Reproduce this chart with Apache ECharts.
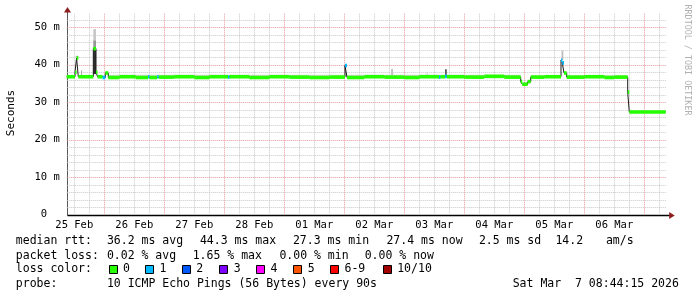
<!DOCTYPE html>
<html><head><meta charset="utf-8">
<script src="https://cdn.jsdelivr.net/npm/echarts@6/dist/echarts.min.js"></script>
<style>html,body{margin:0;padding:0;background:#fff}#c{width:697px;height:297px}</style>
</head><body><div id="c"></div>
<script>
// ---- time axis in hours since 25 Feb 00:00 ----
const xMin = 8.96, xMax = 248.96, yMax = 53.8;

// median samples: start hour, median (ms), lost pings (of 10)
const segStart  = [8.96, 12.28, 12.9, 13.6, 19.6, 20.68, 21.3, 23.36, 24.4, 25.6, 30.0, 36.5, 41.48, 42.1, 45.16, 45.76, 52.0, 60.0, 66.0, 73.48, 74.1, 82.0, 90.0, 98.0, 106.0, 114.0, 120.28, 121.08, 128.0, 136.0, 144.0, 150.0, 157.88, 158.5, 160.28, 161.0, 168.0, 176.0, 184.0, 190.56, 191.2, 193.36, 194.56, 200.0, 206.68, 207.2, 207.88, 208.96, 216.0, 224.0, 228.0, 233.36, 234.0];
const segMedian = [36.8, 38.0, 41.8, 36.8, 44.3, 38.0, 36.8, 36.6, 37.8, 36.6, 36.8, 36.6, 36.8, 36.6, 36.8, 36.7, 36.8, 36.6, 36.8, 36.7, 36.8, 36.6, 36.8, 36.7, 36.6, 36.7, 39.8, 36.6, 36.8, 36.7, 36.6, 36.8, 36.7, 36.8, 36.9, 36.8, 36.7, 36.9, 36.7, 35.5, 34.8, 35.5, 36.7, 36.8, 41.2, 40.5, 37.8, 36.7, 36.8, 36.6, 36.7, 32.7, 27.4];
const segLoss   = [0, 0, 0, 0, 0, 0, 0, 1, 0, 0, 0, 0, 1, 0, 1, 0, 0, 0, 0, 1, 0, 0, 0, 0, 0, 0, 1, 0, 0, 0, 0, 0, 1, 0, 1, 0, 0, 0, 0, 0, 0, 0, 0, 0, 1, 1, 0, 0, 0, 0, 0, 0, 0];
const dataEnd = 248.56;

// smoke (spread of the 10 pings)
const smokeFrom  = [12.6, 14.7, 19.6, 19.6, 19.6, 25.6, 121.08, 138.7, 152.9, 160.28, 194.56, 206.9, 208.96];
const smokeTo    = [13.6, 15.1, 20.68, 20.68, 20.68, 120.28, 190.56, 139.5, 153.3, 161.0, 206.68, 207.6, 233.36];
const smokeLow   = [41.8, 36.9, 46.5, 44.3, 37.5, 36.7, 36.7, 36.9, 36.9, 36.9, 36.7, 41.2, 36.7];
const smokeHigh  = [42.4, 38.5, 49.5, 46.5, 44.3, 37.3, 37.3, 38.9, 37.9, 38.8, 37.2, 43.8, 37.2];
const smokeShade = ['#b8b8b8', '#a8a8a8', '#c8c8c8', '#969696', '#303030', '#d8d8d8', '#d4d4d4', '#c4c4c4', '#c8c8c8', '#5a5a5a', '#d8d8d8', '#bcbcbc', '#d8d8d8'];

// axes
const dayLabels   = ['25 Feb', '26 Feb', '27 Feb', '28 Feb', '01 Mar', '02 Mar', '03 Mar', '04 Mar', '05 Mar', '06 Mar'];
const dayNoon     = [12, 36, 60, 84, 108, 132, 156, 180, 204, 228];
const dayMidnight = [24, 48, 72, 96, 120, 144, 168, 192, 216, 240];
const yTickLabels = ['0  ', '10 m', '20 m', '30 m', '40 m', '50 m'];
const yMajor = [10, 20, 30, 40, 50];
const yMinor = [2, 4, 6, 8, 12, 14, 16, 18, 22, 24, 26, 28, 32, 34, 36, 38, 42, 44, 46, 48, 52];

// legend
const lossLabels = ['0', '1', '2', '3', '4', '5', '6-9', '10/10'];
const lossColors = ['#26ff00', '#00b8ff', '#0059ff', '#7e00ff', '#ff00ff', '#ff5500', '#ff0000', '#a10000'];
const rttStats  = ['36.2 ms avg', '44.3 ms max', '27.3 ms min', '27.4 ms now', '2.5 ms sd', '14.2', 'am/s'];
const lossStats = ['0.02 % avg', '1.65 % max', '0.00 % min', '0.00 % now'];
const probeText = '10 ICMP Echo Pings (56 Bytes) every 90s';
const dateText  = 'Sat Mar  7 08:44:15 2026';

// minor vertical grid every 6 hours (not at midnight)
const xMinor = [];
[0].concat(dayMidnight).forEach(m => [6, 12, 18].forEach(o => { const v = m + o; if (v > xMin && v < xMax) xMinor.push(v); }));

const segEnd = segStart.map((s, i) => i < segStart.length - 1 ? segStart[i + 1] : dataEnd);
const medianLine = [];
segStart.forEach((s, i) => { medianLine.push([s, segMedian[i]]); medianLine.push([segEnd[i], segMedian[i]]); });

const MONO = '"DejaVu Sans Mono", monospace';
const chart = echarts.init(document.getElementById('c'), null, {renderer: 'canvas'});

function gridSeries(vals, vertical, color) {
  return {
    type: 'custom', z: 1, silent: true, animation: false,
    data: vals.map(v => [v]),
    renderItem(params, api) {
      const v = api.value(0);
      let a, b;
      if (vertical) { a = api.coord([v, 0]); b = api.coord([v, yMax]); const x = Math.round(a[0]) + 0.5; a[0] = b[0] = x; }
      else { a = api.coord([xMin, v]); b = api.coord([xMax, v]); const y = Math.round(a[1]) + 0.5; a[1] = b[1] = y; }
      return {type: 'line', shape: {x1: a[0], y1: a[1], x2: b[0], y2: b[1]}, style: {stroke: color, lineWidth: 1, lineDash: [1, 1]}};
    }
  };
}

chart.setOption({
  backgroundColor: '#ffffff',
  animation: false,
  grid: {left: 66.7, right: 30.3, top: 13, bottom: 82.3, containLabel: false},
  xAxis: {type: 'value', min: xMin, max: xMax, axisLine: {show: false}, axisTick: {show: false}, axisLabel: {show: false}, splitLine: {show: false}},
  yAxis: {
    type: 'value', min: 0, max: yMax, interval: 10,
    axisLine: {show: false}, axisTick: {show: false}, splitLine: {show: false},
    axisLabel: {
      margin: 7, color: '#000', fontFamily: '"DejaVu Sans Mono"', fontSize: 10.5,
      formatter: v => { const i = yMajor.indexOf(v); return v === 0 ? yTickLabels[0] : (i >= 0 ? yTickLabels[i + 1] : ''); }
    }
  },
  series: [
    gridSeries(xMinor, true, '#c8c8c8'),
    gridSeries(yMinor, false, '#c8c8c8'),
    gridSeries(dayMidnight, true, '#e89a9a'),
    gridSeries(yMajor, false, '#e89a9a'),
    {
      type: 'custom', z: 2, silent: true,
      data: smokeFrom.map((f, i) => [f, smokeTo[i], smokeLow[i], smokeHigh[i]]),
      encode: {x: [0, 1], y: [2, 3]},
      renderItem(params, api) {
        const a = api.coord([api.value(0), api.value(3)]);
        const b = api.coord([api.value(1), api.value(2)]);
        return {type: 'rect', shape: {x: a[0], y: a[1], width: Math.max(b[0] - a[0], 1), height: b[1] - a[1]}, style: {fill: smokeShade[params.dataIndex]}};
      }
    },
    {
      type: 'line', z: 3, silent: true, data: medianLine, symbol: 'none',
      lineStyle: {color: '#1a1a1a', width: 1}
    },
    {
      type: 'custom', z: 4, silent: true,
      data: segStart.map((s, i) => [s, segEnd[i], segMedian[i], segLoss[i]]),
      encode: {x: [0, 1], y: 2},
      renderItem(params, api) {
        const a = api.coord([api.value(0), api.value(2)]);
        const b = api.coord([api.value(1), api.value(2)]);
        return {type: 'rect', shape: {x: a[0], y: a[1] - 1.8, width: Math.max(b[0] - a[0], 1), height: 3.6}, style: {fill: lossColors[api.value(3)]}};
      }
    }
  ]
});

// ---- axes, labels and legend drawn as graphics at positions from the chart's scales ----
const p0 = chart.convertToPixel({gridIndex: 0}, [xMin, 0]);
const pR = chart.convertToPixel({gridIndex: 0}, [xMax, 0]);
const pT = chart.convertToPixel({gridIndex: 0}, [xMin, yMax]);
const ax = Math.round(p0[0]) + 0.5, ay = Math.round(p0[1]) + 0.5;
const g = [];
// x tick labels
dayLabels.forEach((t, i) => {
  const p = chart.convertToPixel({gridIndex: 0}, [dayNoon[i], 0]);
  g.push({type: 'text', x: p[0], y: ay + 9.5, style: {text: t, font: '10.5px ' + MONO, fill: '#000', align: 'center', verticalAlign: 'middle'}});
});
// axis lines + arrows
g.push({type: 'line', shape: {x1: ax, y1: ay, x2: ax, y2: pT[1] - 4}, style: {stroke: '#5a5a5a', lineWidth: 1}});
g.push({type: 'line', shape: {x1: ax, y1: ay, x2: pR[0] + 4, y2: ay}, style: {stroke: '#000', lineWidth: 1.4}});
g.push({type: 'polygon', shape: {points: [[ax, pT[1] - 6], [ax - 3.5, pT[1] - 0.5], [ax + 3.5, pT[1] - 0.5]]}, style: {fill: '#8b1f1f'}});
g.push({type: 'polygon', shape: {points: [[pR[0] + 8, ay], [pR[0] + 2.5, ay - 3.5], [pR[0] + 2.5, ay + 3.5]]}, style: {fill: '#8b1f1f'}});
// y title
g.push({type: 'text', x: 11, y: 113, rotation: Math.PI / 2, style: {text: 'Seconds', font: '11px ' + MONO, fill: '#000', align: 'center', verticalAlign: 'middle'}});
// watermark
g.push({type: 'text', x: 687, y: 60, rotation: -Math.PI / 2, style: {text: 'RRDTOOL / TOBI OETIKER', font: '8.4px ' + MONO, fill: '#b0b0b0', align: 'center', verticalAlign: 'middle'}});

function txt(t, x, y) { g.push({type: 'text', x: x, y: y, style: {text: t, font: '11.5px ' + MONO, fill: '#000', align: 'left', verticalAlign: 'middle'}}); }
const row1X = [107.5, 200.5, 293.5, 387, 479.5, 556, 606.5];
txt('median rtt:', 15.8, 241);
rttStats.forEach((t, i) => txt(t, row1X[i] - 0.6, 241));
const row2X = [107.5, 193.3, 280, 365.3];
txt('packet loss:', 15.8, 255.7);
lossStats.forEach((t, i) => txt(t, row2X[i] - 0.6, 255.7));
txt('loss color:', 15.8, 269.4);
const sqX = [108.5, 145.2, 181.9, 219.4, 256.1, 293.4, 330.1, 382.8];
lossLabels.forEach((t, i) => {
  g.push({type: 'rect', shape: {x: Math.round(sqX[i]) + 0.5, y: 265.5, width: 8, height: 8}, style: {fill: lossColors[i], stroke: '#000', lineWidth: 1}});
  txt(t, sqX[i] + 14.4, 269.4);
});
txt('probe:', 15.8, 283.7);
txt(probeText, 106.9, 283.7);
txt(dateText, 512.7, 283.7);

chart.setOption({graphic: {elements: g}});
</script>
</body></html>
